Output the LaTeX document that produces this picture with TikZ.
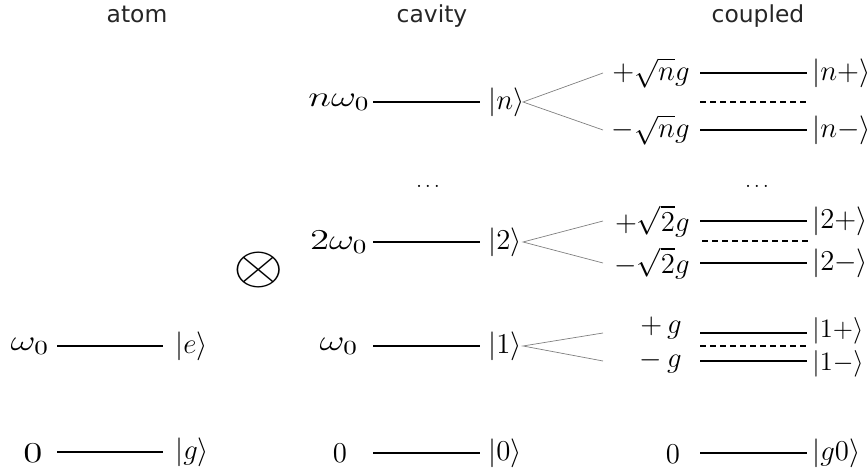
\RequirePackage{fix-cm}
\documentclass[tikz,border=0pt]{standalone}
\usepackage{fontspec}
\usepackage{graphicx}
\newfontfamily\titlefont{DejaVu Sans}
\newcommand\sxx[1]{\scalebox{1.35}[1]{#1}}
\begin{document}
\begin{tikzpicture}[x=0.5pt,y=-0.5pt,
  level/.style={line width=1.2pt},
  midlevel/.style={line width=1.2pt, dash pattern=on 3pt off 2pt},
  fan/.style={draw=black!50, line width=0.35pt},
  lab/.style={inner sep=0pt, font=\fontsize{14.4}{16}\selectfont},
  clab/.style={inner sep=0pt, anchor=east, font=\fontsize{14.4}{16}\selectfont},
  ket/.style={inner sep=0pt, anchor=west, font=\fontsize{14.4}{16}\selectfont},
  smallket/.style={ket, font=\fontsize{13.3}{15}\selectfont},
  dotsnode/.style={inner sep=0pt, font=\fontsize{10}{11}\selectfont},
  title/.style={anchor=base, inner sep=0pt, text=black!85, font=\titlefont\fontsize{11.7}{14}\selectfont}]
\useasboundingbox (0,0) rectangle (868,475);

% titles
\node[title] (tAtom) at (137,23) {atom};
\node[title] (tCav) at (432,23) {cavity};
\node[title] (tCoup) at (758,23) {coupled};

% ---------------- atom ----------------
\coordinate (ae1) at (57,346); \coordinate (ae2) at (163,346);
\draw[level] (ae1) -- (ae2);
\node[lab] (aeL) at (30,346) {\sxx{$\omega_0$}};
\node[ket] (aeK) at (175,346) {$|e\rangle$};

\coordinate (ag1) at (57,452); \coordinate (ag2) at (163,452);
\draw[level] (ag1) -- (ag2);
\node[lab] (agL) at (33,453) {\sxx{$0$}};
\node[ket] (agK) at (175,452) {$|g\rangle$};

% tensor product
\node[inner sep=0pt] (otimes) at (259,270) {\scalebox{1.2}[1]{\fontsize{27}{30}\selectfont$\otimes$}};

% ---------------- cavity ----------------
\coordinate (cn1) at (373,102); \coordinate (cn2) at (480,102);
\draw[level] (cn1) -- (cn2);
\node[lab] (cnL) at (339,102) {\sxx{$n\omega_0$}};
\node[ket] (cnK) at (488,102) {$|n\rangle$};

\node[dotsnode] (cdots) at (428,186) {$\dots$};

\coordinate (c21) at (373,242); \coordinate (c22) at (480,242);
\draw[level] (c21) -- (c22);
\node[lab] (c2L) at (339,242) {\sxx{$2\omega_0$}};
\node[ket] (c2K) at (488,242) {$|2\rangle$};

\coordinate (c11) at (373,346); \coordinate (c12) at (480,346);
\draw[level] (c11) -- (c12);
\node[lab] (c1L) at (339,346) {\sxx{$\omega_0$}};
\node[ket] (c1K) at (488,346) {$|1\rangle$};

\coordinate (c01) at (373,453); \coordinate (c02) at (480,453);
\draw[level] (c01) -- (c02);
\node[lab] (c0L) at (340,453) {$0$};
\node[ket] (c0K) at (488,453) {$|0\rangle$};

% fans
\coordinate (fn) at (523,102); \coordinate (fnA) at (603,73); \coordinate (fnB) at (603,130);
\draw[fan] (fnA) -- (fn) -- (fnB);
\coordinate (f2) at (523,242); \coordinate (f2A) at (603,221); \coordinate (f2B) at (603,263);
\draw[fan] (f2A) -- (f2) -- (f2B);
\coordinate (f1) at (523,346); \coordinate (f1A) at (603,333); \coordinate (f1B) at (603,361);
\draw[fan] (f1A) -- (f1) -- (f1B);

% ---------------- coupled ----------------
\coordinate (np1) at (700,73); \coordinate (np2) at (807,73);
\draw[level] (np1) -- (np2);
\node[clab] (npL) at (690,73) {$+\sqrt{n}g$};
\node[ket] (npK) at (812,73) {$|n{+}\rangle$};
\coordinate (nd1) at (700,102); \coordinate (nd2) at (807,102);
\draw[midlevel] (nd1) -- (nd2);
\coordinate (nm1) at (700,130); \coordinate (nm2) at (807,130);
\draw[level] (nm1) -- (nm2);
\node[clab] (nmL) at (690,130) {$-\sqrt{n}g$};
\node[ket] (nmK) at (812,130) {$|n{-}\rangle$};

\node[dotsnode] (kdots) at (757,186) {$\dots$};

\coordinate (tp1) at (700,221); \coordinate (tp2) at (807,221);
\draw[level] (tp1) -- (tp2);
\node[clab] (tpL) at (690,221) {$+\sqrt{2}g$};
\node[ket] (tpK) at (812,221) {$|2{+}\rangle$};
\coordinate (td1) at (702,241); \coordinate (td2) at (808,241);
\draw[midlevel] (td1) -- (td2);
\coordinate (tm1) at (700,263); \coordinate (tm2) at (807,263);
\draw[level] (tm1) -- (tm2);
\node[clab] (tmL) at (690,263) {$-\sqrt{2}g$};
\node[ket] (tmK) at (812,263) {$|2{-}\rangle$};

\coordinate (op1) at (700,333); \coordinate (op2) at (807,333);
\draw[level] (op1) -- (op2);
\node[clab] (opL) at (682,328) {$+\,g$};
\node[smallket] (opK) at (812,331) {$|1{+}\rangle$};
\coordinate (od1) at (700,346); \coordinate (od2) at (807,346);
\draw[midlevel] (od1) -- (od2);
\coordinate (om1) at (700,361); \coordinate (om2) at (807,361);
\draw[level] (om1) -- (om2);
\node[clab] (omL) at (682,362) {$-\,g$};
\node[smallket] (omK) at (812,364) {$|1{-}\rangle$};

\coordinate (g01) at (700,453); \coordinate (g02) at (807,453);
\draw[level] (g01) -- (g02);
\node[lab] (g0L) at (673,454) {$0$};
\node[ket] (g0K) at (812,453) {$|g0\rangle$};
\end{tikzpicture}
\end{document}
